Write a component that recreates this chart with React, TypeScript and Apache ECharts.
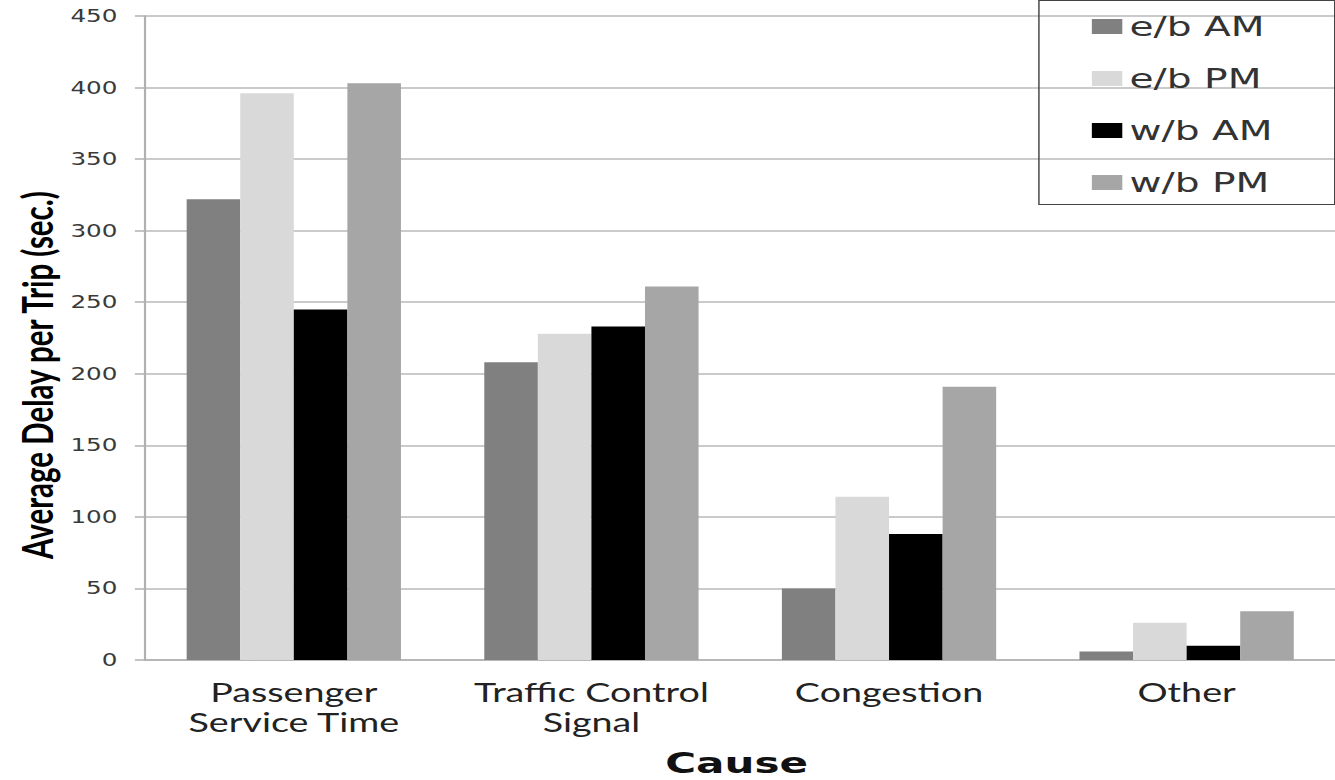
import React, { useEffect, useRef } from "react";
import * as echarts from "echarts";

const categories = ["Passenger\nService Time", "Traffic Control\nSignal", "Congestion", "Other"];
const seriesNames = ["e/b AM", "e/b PM", "w/b AM", "w/b PM"];
const ebAM = [322, 208, 50, 6];
const ebPM = [396, 228, 114, 26];
const wbAM = [245, 233, 88, 10];
const wbPM = [403, 261, 191, 34];
const seriesColors = ["#808080", "#d9d9d9", "#000000", "#a6a6a6"];
const yTicks = { min: 0, max: 450, interval: 50 };

const STRETCH = 1.45;
const BASE_W = 921;
const H = 780;

export default function App() {
  const ref = useRef<HTMLDivElement>(null);
  useEffect(() => {
    if (!ref.current) return;
    const chart = echarts.init(ref.current, undefined, { renderer: "svg" });
    const values = [ebAM, ebPM, wbAM, wbPM];
    chart.setOption({
      animation: false,
      backgroundColor: "#ffffff",
      grid: { left: 100, right: 0, top: 16, bottom: 120, containLabel: false },
      legend: {
        orient: "vertical",
        left: 748,
        top: 8,
        itemWidth: 21,
        itemHeight: 15,
        itemGap: 25,
        icon: "rect",
        data: seriesNames,
        textStyle: { fontFamily: "DejaVu Sans", fontSize: 27, color: "#333333" },
      },
      xAxis: {
        type: "category",
        data: categories,
        axisLine: { show: true, lineStyle: { color: "#b0b0b0", width: 1.5 } },
        axisTick: { show: false },
        axisLabel: {
          interval: 0,
          margin: 17,
          fontFamily: "Lato",
          fontSize: 26,
          lineHeight: 30,
          color: "#222222",
          verticalAlign: "top",
        },
      },
      yAxis: {
        type: "value",
        min: yTicks.min,
        max: yTicks.max,
        interval: yTicks.interval,
        axisLine: { show: true, lineStyle: { color: "#b0b0b0", width: 1.5 } },
        axisTick: { show: true, length: 7, lineStyle: { color: "#b0b0b0", width: 1.5 } },
        splitLine: { show: true, lineStyle: { color: "#b8b8b8", width: 1.5 } },
        axisLabel: { margin: 19, fontFamily: "DejaVu Sans", fontSize: 17, color: "#3a3a3a" },
      },
      series: seriesNames.map((name, i) => ({
        name,
        type: "bar",
        data: values[i],
        barGap: "0%",
        barCategoryGap: "28%",
        itemStyle: { color: seriesColors[i] },
      })),
      graphic: [
        {
          type: "rect",
          shape: { x: 716.5, y: 0.5, width: 204, height: 204 },
          style: { fill: "none", stroke: "#444444", lineWidth: 1 },
          z: 10,
        },
        {
          type: "text",
          x: 25,
          y: 375,
          rotation: Math.PI / 2,
          style: {
            text: "Average Delay per Trip (sec.)",
            fontFamily: "Lato",
            fontWeight: "bold",
            fontSize: 29.5,
            fill: "#000000",
            align: "center",
            verticalAlign: "middle",
          },
        },
        {
          type: "text",
          x: 508,
          y: 763,
          style: {
            text: "Cause",
            fontFamily: "DejaVu Sans",
            fontWeight: "bold",
            fontSize: 29,
            fill: "#111111",
            align: "center",
            verticalAlign: "middle",
          },
        },
      ],
    });
    return () => chart.dispose();
  }, []);

  return (
    <div style={{ position: "fixed", left: 0, top: 0, width: 1335, height: H, overflow: "hidden", background: "#fff" }}>
      <div
        ref={ref}
        style={{ width: BASE_W, height: H, transform: `scaleX(${STRETCH})`, transformOrigin: "0 0" }}
      />
    </div>
  );
}
